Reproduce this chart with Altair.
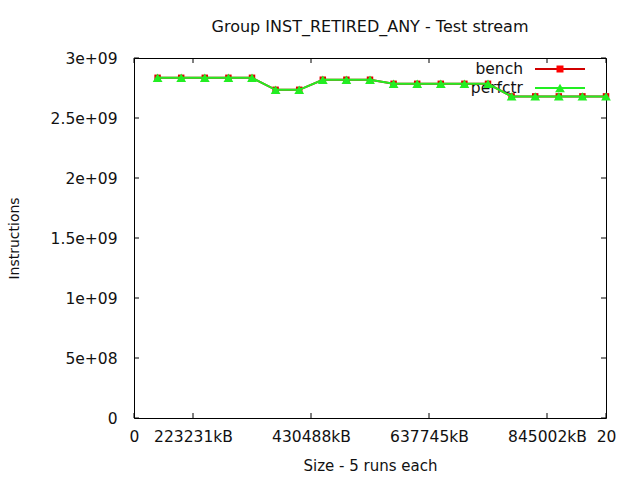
import altair as alt
import pandas as pd

# ---- data ----
run_index = list(range(1, 21))
bench = [2.835e9, 2.835e9, 2.835e9, 2.835e9, 2.835e9,
         2.735e9, 2.735e9,
         2.819e9, 2.819e9, 2.819e9,
         2.785e9, 2.785e9, 2.785e9, 2.785e9, 2.785e9,
         2.680e9, 2.680e9, 2.680e9, 2.680e9, 2.680e9]
perfctr = [2.835e9, 2.835e9, 2.835e9, 2.835e9, 2.835e9,
           2.735e9, 2.735e9,
           2.819e9, 2.819e9, 2.819e9,
           2.785e9, 2.785e9, 2.785e9, 2.785e9, 2.785e9,
           2.680e9, 2.680e9, 2.680e9, 2.680e9, 2.680e9]

x_tick_values = [0, 2.5, 7.5, 12.5, 17.5, 20]
x_tick_labels = ["0", "223231kB", "430488kB", "637745kB", "845002kB", "20"]
y_tick_values = [0, 5e8, 1e9, 1.5e9, 2e9, 2.5e9, 3e9]
y_tick_labels = ["0", "5e+08", "1e+09", "1.5e+09", "2e+09", "2.5e+09", "3e+09"]

W, H = 472, 360
FONT = "DejaVu Sans"
RED_LINE = "#d00000"
RED_PT = "#e00000"
GREEN = "#22ee22"


def label_expr(values, labels):
    expr = "''"
    for v, l in reversed(list(zip(values, labels))):
        expr = f"(abs(datum.value - {v}) < {abs(v) * 1e-6 + 1e-9}) ? '{l}' : ({expr})"
    return expr


df_b = pd.DataFrame({"x": run_index, "y": bench})
df_p = pd.DataFrame({"x": run_index, "y": perfctr})
df_xt = pd.DataFrame({"x": x_tick_values})
df_yt = pd.DataFrame({"y": y_tick_values})

X = alt.X("x:Q",
          scale=alt.Scale(domain=[0, 20], nice=False, zero=False),
          axis=alt.Axis(values=x_tick_values,
                        labelExpr=label_expr(x_tick_values, x_tick_labels),
                        ticks=False, grid=False, domain=False,
                        labelPadding=11, labelFontSize=15.5, labelFont=FONT,
                        labelColor="#111", labelFlush=False, labelOverlap=False,
                        title="Size - 5 runs each", titleFont=FONT,
                        titleFontSize=15, titleFontWeight="normal", titleColor="#111",
                        titleX=W / 2, titleY=47, titleBaseline="middle",
                        titleAnchor="middle"))
Y = alt.Y("y:Q",
          scale=alt.Scale(domain=[0, 3e9], nice=False),
          axis=alt.Axis(values=y_tick_values,
                        labelExpr=label_expr(y_tick_values, y_tick_labels),
                        ticks=False, grid=False, domain=False,
                        labelPadding=17, labelFontSize=15.5, labelFont=FONT,
                        labelColor="#111", labelFlush=False, labelOverlap=False,
                        title="Instructions", titleFont=FONT,
                        titleFontSize=14, titleFontWeight="normal", titleColor="#111",
                        titleX=-120, titleY=H / 2, titleAngle=270,
                        titleAlign="center", titleBaseline="middle"))

bench_line = alt.Chart(df_b).mark_line(color=RED_LINE, strokeWidth=2).encode(x=X, y=Y)
bench_pts = alt.Chart(df_b).mark_point(shape="square", filled=True, color=RED_PT,
                                       size=42, opacity=1).encode(x=X, y=Y)
perf_line = alt.Chart(df_p).mark_line(color=GREEN, strokeWidth=2).encode(x=X, y=Y)
perf_pts = alt.Chart(df_p).mark_point(shape="triangle-up", filled=True, color=GREEN,
                                      size=95, opacity=1).encode(x=X, y=Y)

tick_len = 5
xt_bottom = alt.Chart(df_xt).mark_rule(color="#000", strokeWidth=1).encode(
    x=X, y=alt.value(H), y2=alt.value(H - tick_len))
xt_top = alt.Chart(df_xt).mark_rule(color="#000", strokeWidth=1).encode(
    x=X, y=alt.value(0), y2=alt.value(tick_len))
yt_left = alt.Chart(df_yt).mark_rule(color="#000", strokeWidth=1).encode(
    y=Y, x=alt.value(0), x2=alt.value(tick_len))
yt_right = alt.Chart(df_yt).mark_rule(color="#000", strokeWidth=1).encode(
    y=Y, x=alt.value(W), x2=alt.value(W - tick_len))

one = pd.DataFrame({"k": [0]})
leg_text_b = alt.Chart(one).mark_text(align="right", baseline="middle", font=FONT,
                                      fontSize=15.5, color="#111").encode(
    x=alt.value(389), y=alt.value(11), text=alt.value("bench"))
leg_text_p = alt.Chart(one).mark_text(align="right", baseline="middle", font=FONT,
                                      fontSize=15.5, color="#111").encode(
    x=alt.value(389), y=alt.value(30), text=alt.value("perfctr"))
leg_line_b = alt.Chart(one).mark_rule(color=RED_LINE, strokeWidth=2).encode(
    x=alt.value(401), x2=alt.value(451), y=alt.value(11))
leg_pt_b = alt.Chart(one).mark_point(shape="square", filled=True, color="#ff0000",
                                     size=49, opacity=1).encode(
    x=alt.value(426), y=alt.value(11))
leg_line_p = alt.Chart(one).mark_rule(color=GREEN, strokeWidth=2).encode(
    x=alt.value(401), x2=alt.value(451), y=alt.value(30))
leg_pt_p = alt.Chart(one).mark_point(shape="triangle-up", filled=True, color=GREEN,
                                     size=95, opacity=1).encode(
    x=alt.value(426), y=alt.value(30))

chart = alt.layer(
    leg_text_b, leg_text_p, leg_line_b, leg_pt_b, leg_line_p, leg_pt_p,
    bench_line, bench_pts, perf_line, perf_pts,
    xt_bottom, xt_top, yt_left, yt_right,
).properties(
    width=W, height=H,
    title=alt.TitleParams("Group INST_RETIRED_ANY - Test stream", font=FONT,
                          fontSize=16, fontWeight="normal", color="#111",
                          anchor="middle", frame="group", offset=16),
    autosize=alt.AutoSizeParams(type="none"),
    padding={"left": 134, "top": 58, "right": 34, "bottom": 62},
    background="white",
).configure_view(stroke="#000", strokeWidth=1)

chart.save("out.html", embed_options={"renderer": "svg", "actions": False})
